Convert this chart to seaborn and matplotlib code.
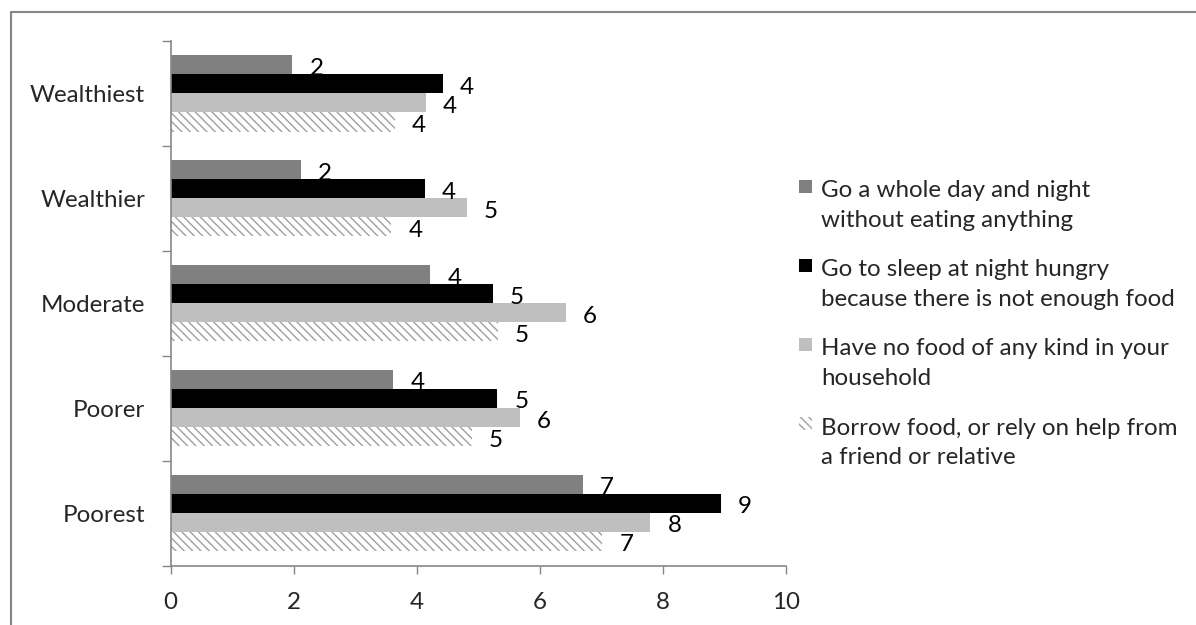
import seaborn as sns
import matplotlib.pyplot as plt
import pandas as pd
from matplotlib.patches import Rectangle
from matplotlib.lines import Line2D

sns.set_style("white")
plt.rcParams["font.family"] = ["Lato", "DejaVu Sans"]
plt.rcParams["hatch.linewidth"] = 1.0

# 数据
groups = ["Wealthiest", "Wealthier", "Moderate", "Poorer", "Poorest"]
series = ["Go a whole day and night\nwithout eating anything",
          "Go to sleep at night hungry\nbecause there is not enough food",
          "Have no food of any kind in your\nhousehold",
          "Borrow food, or rely on help from\na friend or relative"]
whole_day = [1.98, 2.12, 4.22, 3.62, 6.70]
sleep_hungry = [4.43, 4.13, 5.24, 5.31, 8.95]
no_food = [4.15, 4.81, 6.42, 5.68, 7.80]
borrow = [3.64, 3.59, 5.32, 4.90, 7.02]
xticks = [0, 2, 4, 6, 8, 10]

colors = ["#808080", "#000000", "#bfbfbf", "#ffffff"]
W, H = 1196, 625
fs = 17.4

rows = []
for s, vals in zip(series, [whole_day, sleep_hungry, no_food, borrow]):
    for g, v in zip(groups, vals):
        rows.append({"group": g, "series": s, "value": v})
df = pd.DataFrame(rows)

fig, ax = plt.subplots(figsize=(W / 100, H / 100), dpi=100)
fig.subplots_adjust(left=170.7 / W, right=785.7 / W, top=1 - 41 / H, bottom=1 - 565.7 / H)

sns.barplot(data=df, x="value", y="group", hue="series", order=groups, hue_order=series,
            palette=colors, orient="h", width=0.725, saturation=1, legend=False,
            linewidth=0, ax=ax, errorbar=None)

# 斜线填充的那一组
for p in ax.containers[3]:
    p.set_facecolor("white")
    p.set_edgecolor("#a0a0a0")
    p.set_linewidth(0)
    p.set_hatch("\\\\\\\\")

# 数值标签
for cont in ax.containers:
    for p in cont:
        w = p.get_width()
        yc = p.get_y() + p.get_height() / 2
        ax.annotate(f"{round(w)}", (w, yc), xytext=(17, -9.7), textcoords="offset pixels",
                    ha="left", va="baseline", fontsize=fs, color="black")

# 坐标轴
ax.set_xlim(0, 10)
ax.set_ylim(4.5, -0.5)
ax.set_xticks(xticks)
ax.set_xticklabels([str(t) for t in xticks])
ax.set_yticks(range(len(groups)))
ax.set_yticklabels(groups)
ax.set_yticks([i - 0.5 for i in range(len(groups) + 1)], minor=True)
ax.set_xlabel("")
ax.set_ylabel("")
ax.tick_params(axis="x", length=6, width=1, color="#868686", pad=12.8, labelsize=fs, direction="out", bottom=True)
ax.tick_params(axis="y", which="major", length=0, pad=18.5, labelsize=fs)
ax.tick_params(axis="y", which="minor", length=6.5, width=1, color="#868686", left=True, direction="out")
for side in ["top", "right"]:
    ax.spines[side].set_visible(False)
for side in ["left", "bottom"]:
    ax.spines[side].set_color("#868686")
    ax.spines[side].set_linewidth(1.2)
ax.grid(False)

# 图例（手动画）
for i, (lab, c) in enumerate(zip(series, colors)):
    base = 195 + 79.3 * i
    rect = Rectangle((799 / W, 1 - (base - 2.5) / H), 13 / W, 13 / H, transform=fig.transFigure,
                     facecolor=c, edgecolor="#a0a0a0" if i == 3 else "none", linewidth=0,
                     hatch="\\\\\\\\" if i == 3 else None)
    fig.add_artist(rect)
    # va=baseline 对齐的是最后一行
    fig.text(821 / W, 1 - (base + 31.5) / H, lab, ha="left", va="baseline", fontsize=fs, linespacing=1.52)

# 外框
fig.add_artist(Line2D([11 / W, 11 / W], [0, 1 - 12 / H], transform=fig.transFigure, color="#868686", lw=1.5))
fig.add_artist(Line2D([11 / W, 1], [1 - 12 / H, 1 - 12 / H], transform=fig.transFigure, color="#868686", lw=1.5))

plt.savefig("out.png", dpi=100)
